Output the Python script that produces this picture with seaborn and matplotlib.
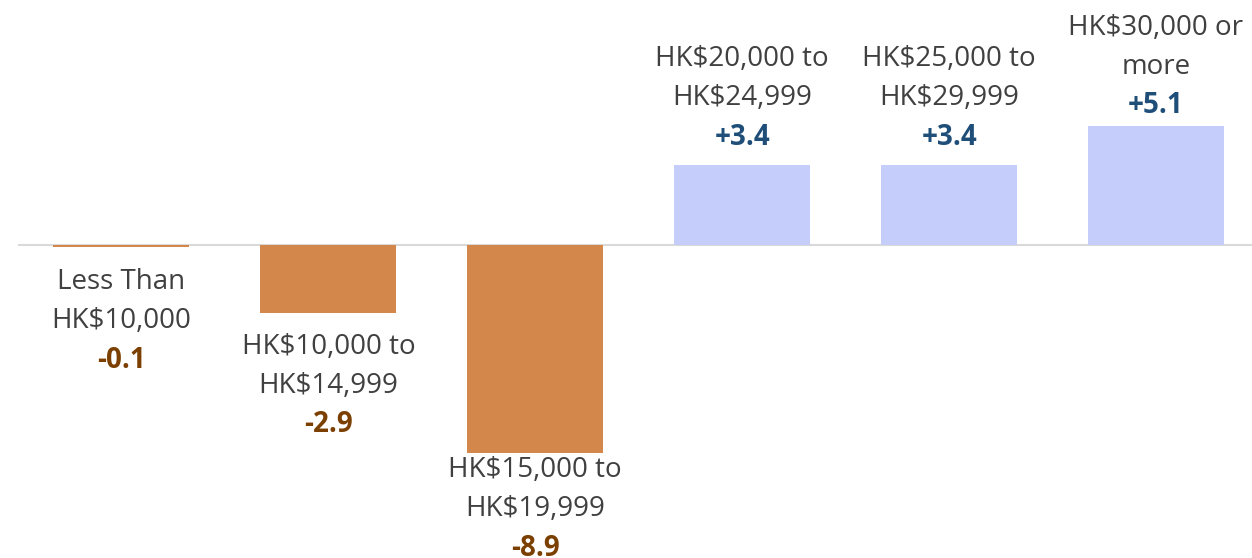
import matplotlib
matplotlib.use("Agg")
import matplotlib.pyplot as plt
import seaborn as sns
import pandas as pd

categories = [
    "Less Than\nHK$10,000",
    "HK$10,000 to\nHK$14,999",
    "HK$15,000 to\nHK$19,999",
    "HK$20,000 to\nHK$24,999",
    "HK$25,000 to\nHK$29,999",
    "HK$30,000 or\nmore",
]
changes = [-0.1, -2.9, -8.9, 3.4, 3.4, 5.1]

# label gap from bar end, pixels (Excel squeezes the ones near the edge)
label_gap = [35, 34, 17, 28, 28, 20]

NEG_BAR = "#D4874A"
POS_BAR = "#C5CEFA"
NEG_TXT = "#7B3F00"
POS_TXT = "#1F4E79"
GREY_TXT = "#404040"

sns.set_style("white")
plt.rcParams["font.family"] = ["Open Sans", "DejaVu Sans"]

df = pd.DataFrame({"cat": categories, "val": changes})
df["sign"] = ["neg" if v < 0 else "pos" for v in df["val"]]

fig = plt.figure(figsize=(12.52, 5.58), dpi=100)
ax = fig.add_axes([18 / 1252, 0, 1 - 18 / 1252, 1])

sns.barplot(data=df, x="cat", y="val", hue="sign",
            palette={"neg": NEG_BAR, "pos": POS_BAR},
            width=0.657, legend=False, ax=ax, saturation=1, linewidth=0)

ax.axhline(0, color="#D9D9D9", lw=1.5, zorder=0)
ax.set_xlim(-0.5, 5.464)
ax.set_ylim(-13.38, 10.47)
ax.axis("off")

fs = 20
step = 39
for i, (cat, v) in enumerate(zip(categories, changes)):
    lines = cat.split("\n")
    gap = label_gap[i]
    txt = f"{v:+.1f}"
    if v >= 0:
        ax.annotate(txt, (i, v), xytext=(0, gap), textcoords="offset pixels",
                    ha="center", va="center", fontsize=fs, fontweight="bold", color=POS_TXT)
        for k, line in enumerate(reversed(lines)):
            ax.annotate(line, (i, v), xytext=(0, gap + step * (k + 1)), textcoords="offset pixels",
                        ha="center", va="center", fontsize=fs, color=GREY_TXT)
    else:
        for k, line in enumerate(lines):
            ax.annotate(line, (i, v), xytext=(0, -gap - step * k), textcoords="offset pixels",
                        ha="center", va="center", fontsize=fs, color=GREY_TXT)
        ax.annotate(txt, (i, v), xytext=(0, -gap - step * len(lines)), textcoords="offset pixels",
                    ha="center", va="center", fontsize=fs, fontweight="bold", color=NEG_TXT)

fig.savefig("out.png", dpi=100)
